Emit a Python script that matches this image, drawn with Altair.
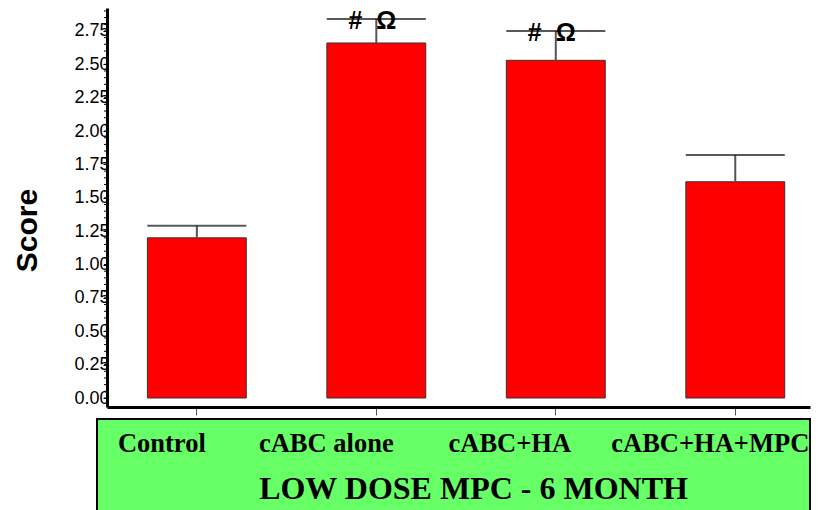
import altair as alt
import pandas as pd

categories = ["Control", "cABC alone", "cABC+HA", "cABC+HA+MPC"]
means = [1.20, 2.66, 2.53, 1.62]
upper = [1.29, 2.84, 2.75, 1.82]
annotations = ["", "#\u00a0\u00a0\u03a9", "#\u00a0\u00a0\u03a9", ""]
major_ticks = [0.00, 0.25, 0.50, 0.75, 1.00, 1.25, 1.50, 1.75, 2.00, 2.25, 2.50, 2.75]
minor_ticks = [round(i * 0.05, 2) for i in range(0, 59)]

df = pd.DataFrame({
    "cat": categories,
    "mean": means,
    "upper": upper,
    "annot": annotations,
    "base": [0.0] * len(categories),
})

W = 703
H = 399

yscale = alt.Scale(domain=[-0.0674, 2.922], nice=False, zero=False)
xscale = alt.Scale(domain=categories, paddingInner=0.449, paddingOuter=0.183, align=0.615)

label_offset = {
    "condition": [
        {"test": "datum.value === 'Control'", "value": -35},
        {"test": "datum.value === 'cABC alone'", "value": -50},
        {"test": "datum.value === 'cABC+HA'", "value": -46},
    ],
    "value": -25,
}

x_axis = alt.Axis(
    title="LOW DOSE MPC - 6 MONTH",
    titleFont="Liberation Serif", titleFontWeight="bold", titleFontSize=32,
    titleColor="black", titleY=81, titleX=366, titleBaseline="middle", titleAlign="center",
    labelFont="Liberation Serif", labelFontWeight="bold", labelFontSize=26.5,
    labelColor="black", labelAngle=0, labelPadding=28, labelBaseline="middle",
    labelOffset=label_offset, labelLimit=0, labelOverlap=False,
    domainColor="black", domainWidth=3,
    tickColor="#555555", tickSize=8, tickWidth=1,
    grid=False, zindex=1,
)

y_axis = alt.Axis(
    title="Score",
    titleFont="Liberation Sans", titleFontWeight="bold", titleFontSize=30,
    titleColor="black", titleX=-80, titleY=222, titleAngle=-90,
    titleAlign="center", titleBaseline="middle",
    values=major_ticks, format=".2f",
    labelFont="Liberation Sans", labelFontSize=18, labelColor="black",
    labelPadding=-6, labelOverlap=False, labelFlush=False,
    tickSize=4, tickColor="black", tickWidth=1,
    domainColor="black", domainWidth=3,
    grid=False,
)

box = alt.Chart(pd.DataFrame({"k": [0]})).mark_rect(
    color="#66FF66", stroke="black", strokeWidth=2
).encode(
    x=alt.value(-10), x2=alt.value(W),
    y=alt.value(H + 12), y2=alt.value(H + 104),
)

minor = alt.Chart(pd.DataFrame({"v": minor_ticks})).mark_rule(
    color="black", strokeWidth=1
).encode(
    y=alt.Y("v:Q", scale=yscale, axis=y_axis),
    x=alt.value(-3), x2=alt.value(0),
)

base = alt.Chart(df)

bars = base.mark_bar(color="#FF0000", stroke="#333333", strokeWidth=1).encode(
    x=alt.X("cat:N", scale=xscale, axis=x_axis, sort=categories),
    y=alt.Y("mean:Q", scale=yscale, axis=y_axis),
    y2="base:Q",
)

stems = base.mark_rule(color="#555555", strokeWidth=2).encode(
    x=alt.X("cat:N", sort=categories, axis=x_axis),
    y=alt.Y("mean:Q", axis=y_axis),
    y2="upper:Q",
)

caps = base.mark_tick(color="#111111", thickness=2, size=99, orient="horizontal").encode(
    x=alt.X("cat:N", sort=categories, axis=x_axis),
    y=alt.Y("upper:Q", axis=y_axis),
)

labels = base.transform_filter("datum.annot != ''").mark_text(
    font="Liberation Sans", fontWeight="bold", fontSize=25, color="black",
    baseline="alphabetic", align="center", dx=-4, dy=10,
).encode(
    x=alt.X("cat:N", sort=categories, axis=x_axis),
    y=alt.Y("upper:Q", axis=y_axis),
    text="annot:N",
)

chart = alt.layer(box, bars, minor, stems, caps, labels).properties(
    width=W, height=H,
    padding={"left": 4, "top": 0, "right": 0, "bottom": 0},
    background="white",
).configure_view(stroke=None)

chart.save("out.html", embed_options={"renderer": "svg", "actions": False})
